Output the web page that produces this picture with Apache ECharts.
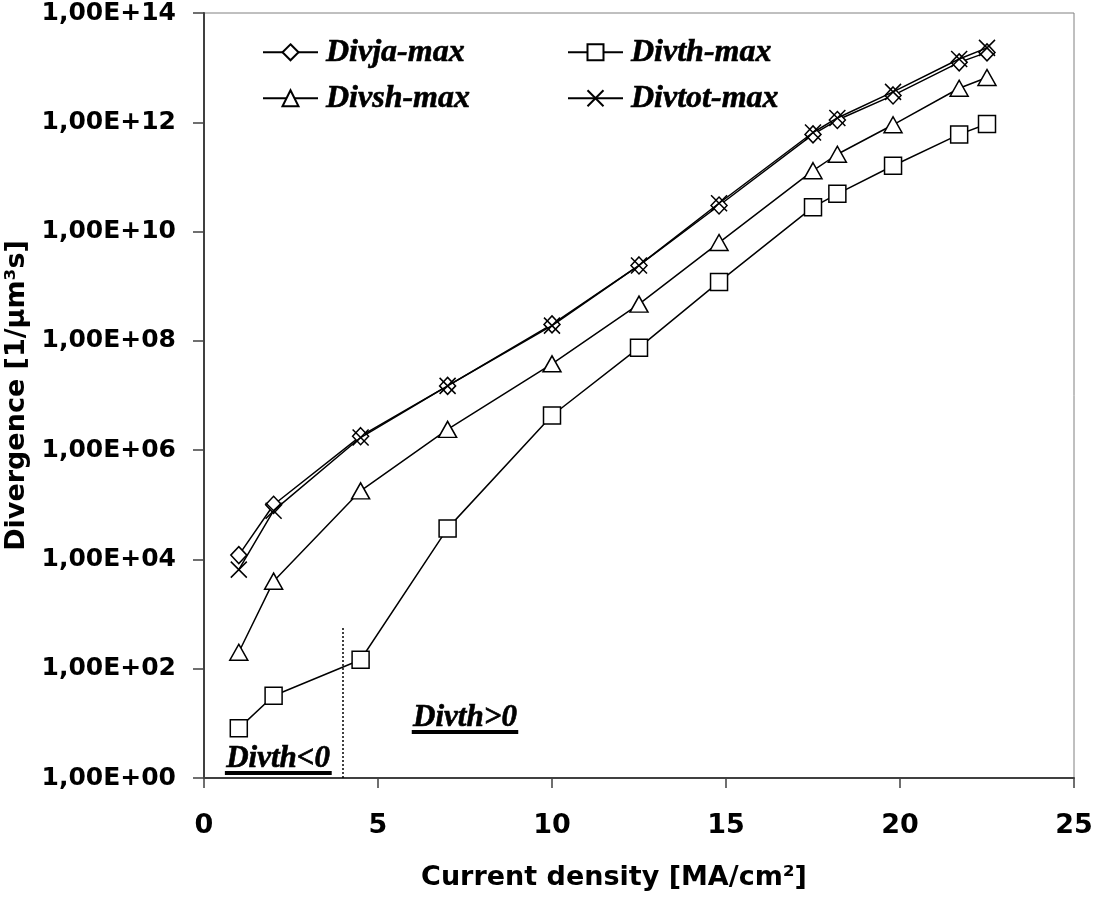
<!DOCTYPE html>
<html>
<head>
<meta charset="utf-8">
<script src="https://cdn.jsdelivr.net/npm/echarts@6/dist/echarts.min.js"></script>
<style>html,body{margin:0;padding:0;background:#fff}#c{width:1096px;height:900px}</style>
</head>
<body>
<div id="c"></div>
<script>
// Data
const currentDensity = [1, 2, 4.5, 7, 10, 12.5, 14.8, 17.5, 18.2, 19.8, 21.7, 22.5];
const divjaMax  = [1.2e4, 1.0e5, 1.8e6, 1.5e7, 2.0e8, 2.4e9, 3.0e10, 6.0e11, 1.1e12, 3.1e12, 1.25e13, 1.9e13];
const divthMax  = [8.1, 32, 146, 3.7e4, 4.3e6, 7.5e7, 1.2e9, 2.8e10, 4.9e10, 1.6e11, 6.0e11, 9.3e11];
const divshMax  = [2.0e2, 4.0e3, 1.8e5, 2.4e6, 3.8e7, 4.7e8, 6.3e9, 1.3e11, 2.6e11, 9.0e11, 4.2e12, 6.6e12];
const divtotMax = [6.5e3, 7.8e4, 1.7e6, 1.5e7, 1.9e8, 2.4e9, 3.3e10, 6.5e11, 1.2e12, 3.6e12, 1.44e13, 2.3e13];
const seriesNames = ['Divja-max', 'Divth-max', 'Divsh-max', 'Divtot-max'];
const annotTexts = ['Divth<0', 'Divth>0'];
const annotX = [2.13, 7.5];
const annotY = [1.25, 7.0];
const underlineX = [[0.6, 3.67], [5.97, 9.03]];
const dividerX = 4;
const dividerY = [1, 600];

const pairs = ys => currentDensity.map((x, i) => [x, ys[i]]);
const crossPath = 'path://M0,0L10,10M10,0L0,10';
const lineStyle = { color: '#000', width: 1.5 };
const itemStyle = { color: '#fff', borderColor: '#000', borderWidth: 1.5 };
const legendText = { fontFamily: 'Liberation Serif', fontStyle: 'italic', fontWeight: 'bold', fontSize: 32, color: '#000',
  textBorderColor: '#000', textBorderWidth: 0.6, padding: [0, 0, 0, 3] };

function mkLegend(name, left, top) {
  return { data: [name], left: left, top: top, padding: 0, itemWidth: 55, itemHeight: 20, textStyle: legendText, selectedMode: false };
}

const chart = echarts.init(document.getElementById('c'));
chart.setOption({
  animation: false,
  backgroundColor: '#fff',
  grid: { left: 204, right: 22, top: 13, bottom: 122, show: true, borderColor: '#808080', borderWidth: 1, outerBoundsMode: 'none' },
  legend: [
    mkLegend(seriesNames[0], 262, 36),
    mkLegend(seriesNames[1], 567, 36),
    mkLegend(seriesNames[2], 262, 82),
    mkLegend(seriesNames[3], 567, 82)
  ],
  xAxis: {
    type: 'value', min: 0, max: 25, interval: 5,
    name: 'Current density [MA/cm²]', nameLocation: 'middle', nameGap: 86,
    nameTextStyle: { fontFamily: 'DejaVu Sans', fontWeight: 'bold', fontSize: 27, color: '#000', padding: [0, 50, 0, 0] },
    axisLine: { lineStyle: { color: '#404040', width: 2 } },
    axisTick: { inside: false, length: 10, lineStyle: { color: '#404040', width: 1.5 } },
    axisLabel: { margin: 34, fontFamily: 'DejaVu Sans', fontWeight: 'bold', fontSize: 27, color: '#000' },
    splitLine: { show: false }
  },
  yAxis: {
    type: 'log', logBase: 10, min: 1, max: 1e14, interval: 2,
    name: 'Divergence [1/µm³s]', nameLocation: 'middle', nameGap: 165,
    nameTextStyle: { fontFamily: 'DejaVu Sans', fontWeight: 'bold', fontSize: 27, color: '#000' },
    axisLine: { lineStyle: { color: '#404040', width: 2 } },
    axisTick: { inside: false, length: 11, lineStyle: { color: '#404040', width: 1.5 } },
    minorTick: { show: false },
    axisLabel: {
      margin: 28, fontFamily: 'DejaVu Sans', fontWeight: 'bold', fontSize: 25, color: '#000',
      formatter: v => { const e = Math.round(Math.log10(v)); return '1,00E+' + (e < 10 ? '0' : '') + e; }
    },
    splitLine: { show: false }
  },
  series: [
    { name: seriesNames[0], type: 'line', data: pairs(divjaMax), symbol: 'diamond', symbolSize: [16, 17], lineStyle, itemStyle, z: 4 },
    { name: seriesNames[1], type: 'line', data: pairs(divthMax), symbol: 'rect', symbolSize: 17, lineStyle, itemStyle, z: 3,
      markLine: { silent: true, symbol: ['none', 'none'], label: { show: false },
        lineStyle: { color: '#000', width: 1.5, type: [2, 2] },
        data: [[{ coord: [dividerX, dividerY[0]] }, { coord: [dividerX, dividerY[1]] }]] } },
    { name: seriesNames[2], type: 'line', data: pairs(divshMax), symbol: 'triangle', symbolSize: [18, 16], lineStyle, itemStyle, z: 3 },
    { name: seriesNames[3], type: 'line', data: pairs(divtotMax), symbol: crossPath, symbolSize: 16, lineStyle,
      itemStyle: { color: 'none', borderColor: '#000', borderWidth: 1.5 }, z: 5 },
    { name: 'annotations', type: 'scatter', symbolSize: 0, silent: true, z: 6,
      data: annotX.map((x, i) => ({ value: [x, annotY[i]], label: { formatter: annotTexts[i] } })),
      label: { show: true, position: 'top', distance: -2, fontFamily: 'Liberation Serif', fontStyle: 'italic', fontWeight: 'bold', fontSize: 31,
        color: '#000', opacity: 1, textBorderColor: '#000', textBorderWidth: 0.6 },
      itemStyle: { opacity: 1 },
      markLine: { silent: true, symbol: ['none', 'none'], label: { show: false },
        lineStyle: { color: '#000', width: 4, type: 'solid' },
        data: underlineX.map((r, i) => [{ coord: [r[0], annotY[i]] }, { coord: [r[1], annotY[i]] }]) } }
  ]
});
</script>
</body>
</html>
